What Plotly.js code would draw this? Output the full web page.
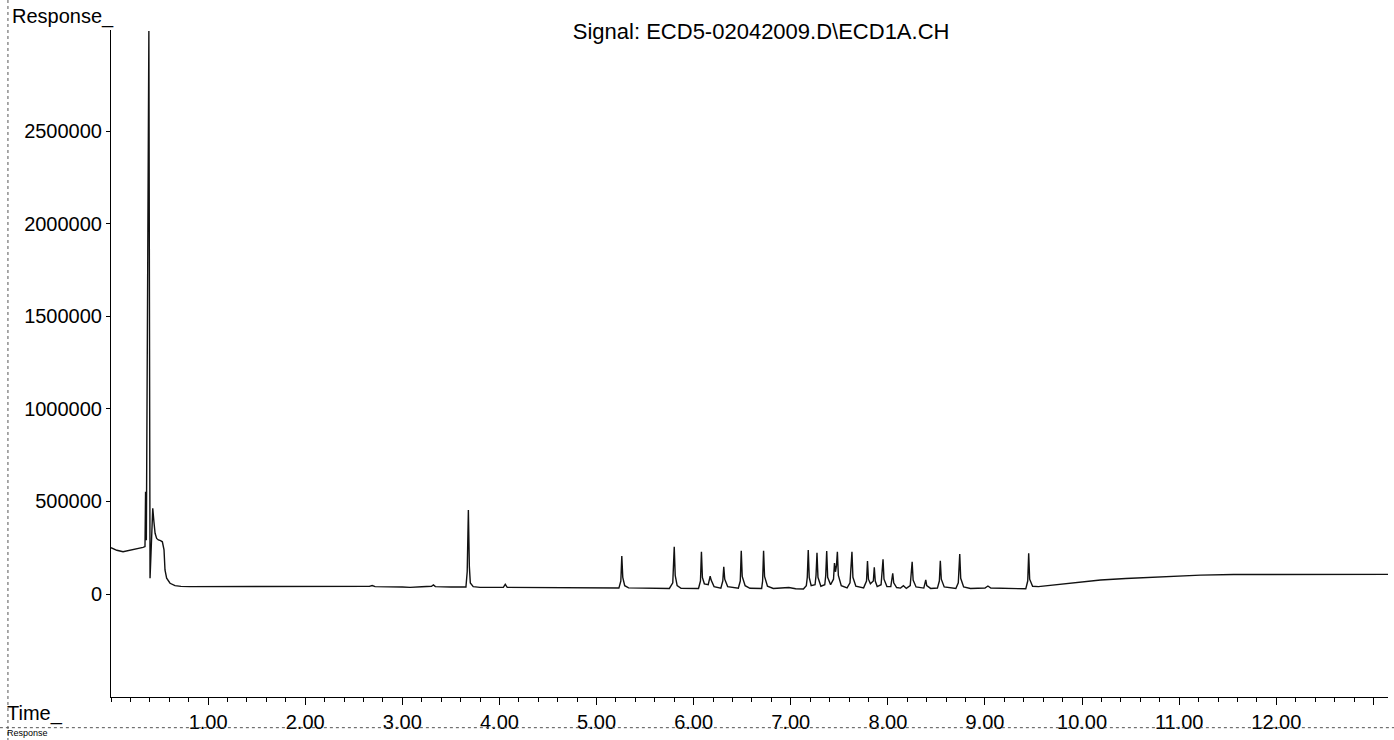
<!DOCTYPE html>
<html>
<head>
<meta charset="utf-8">
<script src="https://cdn.plot.ly/plotly-3.0.1.min.js"></script>
<style>html,body{margin:0;padding:0;background:#fff;}#chart{width:1394px;height:740px;}</style>
</head>
<body>
<div id="chart"></div>
<script>
// Retention time (min)
const time = [
  0, 0.06, 0.124, 0.2, 0.28, 0.33, 0.35, 0.356, 0.364, 0.39, 0.402, 0.43, 0.442, 0.454, 0.47, 0.488, 0.51, 0.529, 0.546, 0.556, 0.573, 0.608, 0.659, 0.72, 0.81,
  1.2, 1.6, 2.0, 2.4, 2.66, 2.69, 2.72, 3.0, 3.08, 3.2, 3.3, 3.32, 3.34, 3.5,
  3.655, 3.668, 3.68, 3.69, 3.70, 3.73, 3.8, 4.04, 4.06, 4.08, 4.5, 5.0, 5.23,
  5.25, 5.26, 5.27, 5.29, 5.33, 5.75, 5.785, 5.80, 5.81, 5.83, 5.87,
  6.05, 6.07, 6.08, 6.09, 6.11, 6.15, 6.17, 6.18, 6.21, 6.28, 6.30, 6.31, 6.32, 6.35,
  6.46, 6.48, 6.49, 6.50, 6.53, 6.58, 6.70, 6.71, 6.72, 6.73, 6.76, 6.82, 6.98, 7.05, 7.13,
  7.16, 7.17, 7.18, 7.19, 7.21, 7.25, 7.26, 7.27, 7.28, 7.31, 7.35, 7.36, 7.37, 7.38, 7.41,
  7.44, 7.45, 7.46, 7.47, 7.48, 7.49, 7.52, 7.58, 7.61, 7.63, 7.64, 7.67, 7.75, 7.78, 7.79, 7.80, 7.82,
  7.85, 7.86, 7.87, 7.89, 7.93, 7.95, 7.96, 7.99, 8.03, 8.05, 8.06, 8.09, 8.13, 8.16, 8.19,
  8.23, 8.25, 8.26, 8.29, 8.37, 8.39, 8.40, 8.44, 8.51, 8.53, 8.54, 8.55, 8.58,
  8.70, 8.725, 8.74, 8.75, 8.78, 8.85, 9.0, 9.03, 9.06, 9.3, 9.42, 9.44, 9.45, 9.46, 9.49, 9.55,
  9.7, 9.95, 10.19, 10.45, 10.67, 11.0, 11.22, 11.56, 12.0, 12.5, 13.15
];
// Detector response
const response = [
  250000, 236000, 228000, 236000, 246000, 252000, 256000, 552000, 290000, 3040000, 85000, 463000, 390000, 328000, 300000, 292000, 288000, 282000, 238000, 130000, 85000, 58000, 45000, 41000, 40000,
  40000, 40000, 39000, 40000, 41000, 46000, 40000, 38000, 36000, 39000, 42000, 49000, 40000, 38000,
  38000, 120000, 454000, 150000, 60000, 40000, 36000, 36000, 52000, 36000, 34000, 32000, 32000,
  70000, 205000, 90000, 45000, 33000, 30000, 60000, 255000, 100000, 45000, 31000,
  30000, 70000, 228000, 90000, 55000, 50000, 97000, 75000, 40000, 32000, 70000, 147000, 80000, 40000,
  31000, 70000, 234000, 95000, 45000, 31000, 30000, 70000, 234000, 95000, 42000, 30000, 35000, 28000, 27000,
  45000, 90000, 238000, 90000, 45000, 50000, 100000, 223000, 90000, 42000, 50000, 100000, 232000, 90000, 50000,
  80000, 167000, 120000, 150000, 228000, 100000, 45000, 33000, 60000, 228000, 90000, 42000, 33000, 70000, 178000, 80000, 55000,
  70000, 144000, 70000, 40000, 50000, 187000, 80000, 40000, 40000, 112000, 60000, 35000, 32000, 45000, 30000,
  45000, 174000, 75000, 38000, 32000, 76000, 45000, 30000, 32000, 70000, 180000, 80000, 38000,
  30000, 60000, 216000, 85000, 38000, 30000, 32000, 43000, 32000, 29000, 28000, 70000, 220000, 80000, 42000, 40000,
  48000, 62000, 76000, 84000, 90000, 98000, 102000, 105000, 106000, 106000, 106000
];
const xTickVals = [1,2,3,4,5,6,7,8,9,10,11,12,13];
const xTickText = ["1.00","2.00","3.00","4.00","5.00","6.00","7.00","8.00","9.00","10.00","11.00","12.00",""];
const yTickVals = [0,500000,1000000,1500000,2000000,2500000];
const yTickText = ["0","500000","1000000","1500000","2000000","2500000"];

const FONT = "Liberation Sans, Arial, Helvetica, sans-serif";
const trace = {
  x: time, y: response, type: "scatter", mode: "lines",
  line: {color: "#111", width: 1.4}, hoverinfo: "skip"
};
const layout = {
  width: 1394, height: 740,
  margin: {l: 111, r: 6, t: 30, b: 43},
  paper_bgcolor: "#fff", plot_bgcolor: "#fff",
  showlegend: false,
  font: {family: FONT, size: 20, color: "#000"},
  title: {text: "Signal: ECD5-02042009.D\\ECD1A.CH", font: {family: FONT, size: 22, color: "#000"},
          xref: "container", yref: "container", x: 0.546, y: 0.958, xanchor: "center", yanchor: "middle"},
  xaxis: {
    range: [0, 13.15], showgrid: false, zeroline: false,
    showline: true, linecolor: "#000", linewidth: 1,
    tickmode: "array", tickvals: xTickVals, ticktext: xTickText,
    ticks: "outside", ticklen: 7, tickwidth: 1, tickcolor: "#000",
    tickfont: {family: FONT, size: 20, color: "#000"},
    minor: {dtick: 0.2, tick0: 0, ticks: "outside", ticklen: 4, tickwidth: 1, tickcolor: "#000", showgrid: false}
  },
  yaxis: {
    range: [-556200, 3045600], showgrid: false, zeroline: false,
    showline: true, linecolor: "#000", linewidth: 1,
    tickmode: "array", tickvals: yTickVals, ticktext: yTickText,
    ticks: "outside", ticklen: 4, tickwidth: 1, tickcolor: "#000",
    tickfont: {family: FONT, size: 20, color: "#000"}
  },
  annotations: [
    {text: "Response_", xref: "paper", yref: "paper", x: -0.0791, y: 1.0195, xanchor: "left", yanchor: "middle", showarrow: false, font: {family: FONT, size: 20, color: "#000"}},
    {text: "Time_", xref: "paper", yref: "paper", x: -0.083, y: -0.024, xanchor: "left", yanchor: "middle", showarrow: false, font: {family: FONT, size: 20, color: "#000"}},
    {text: "Response", xref: "paper", yref: "paper", x: -0.083, y: -0.0645, xanchor: "left", yanchor: "bottom", showarrow: false, font: {family: FONT, size: 9, color: "#000"}}
  ],
  shapes: [
    {type: "line", xref: "paper", yref: "paper", x0: -0.087, x1: 1.005, y0: -0.046, y1: -0.046, line: {color: "#555", width: 1, dash: "dot"}},
    {type: "line", xref: "paper", yref: "paper", x0: -0.0807, x1: -0.0807, y0: 1.045, y1: -0.065, line: {color: "#555", width: 1, dash: "dot"}}
  ]
};
Plotly.newPlot("chart", [trace], layout, {displayModeBar: false, staticPlot: true});
</script>
</body>
</html>
